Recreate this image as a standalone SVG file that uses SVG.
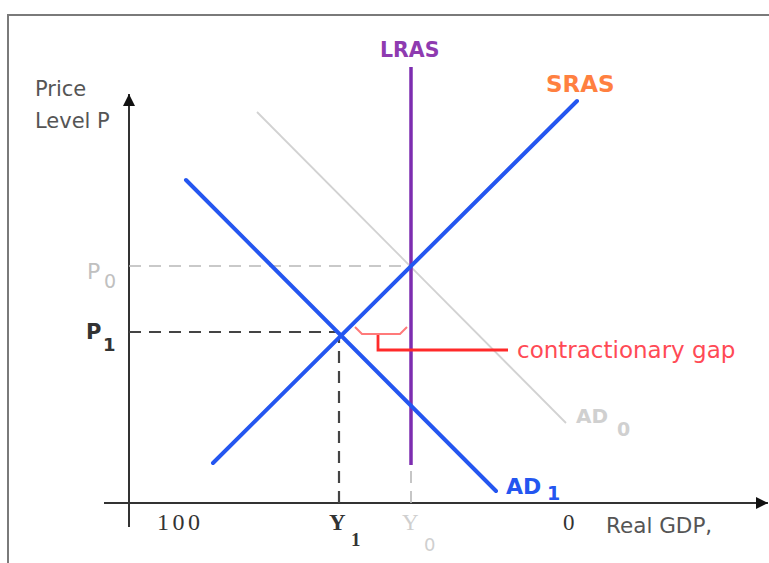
<svg xmlns="http://www.w3.org/2000/svg" width="769" height="563" viewBox="0 0 769 563">
<style>
.sans{font-family:"DejaVu Sans","Liberation Sans",sans-serif}
.serif{font-family:"Liberation Serif","DejaVu Serif",serif}
.b{font-weight:bold}
.curve{stroke:#2456f0;stroke-width:4;fill:none;stroke-linecap:round}
.dashd{stroke:#444;stroke-width:2.2;stroke-dasharray:12 8;fill:none}
.dashl{stroke:#b8b8b8;stroke-width:1.6;stroke-dasharray:12 8;fill:none}
.axis{stroke:#333;stroke-width:2;fill:none}
</style>
<defs>
<marker id="arr" viewBox="0 0 10 10" refX="10" refY="5" markerWidth="15" markerHeight="12" markerUnits="userSpaceOnUse" orient="auto">
<path d="M0,0 L10,5 L0,10 Z" fill="#111"/>
</marker>
</defs>
<rect width="769" height="563" fill="#fff"/>
<rect x="8" y="15" width="800" height="600" fill="none" stroke="#7a7a7a" stroke-width="2"/>

<g id="axes">
<line class="axis" x1="129" y1="527" x2="129" y2="94" marker-end="url(#arr)"/>
<line class="axis" x1="104" y1="503" x2="768" y2="503" marker-end="url(#arr)"/>
<text class="sans" x="35" y="96" font-size="21" fill="#555">Price</text>
<text class="sans" x="35" y="128" font-size="21" fill="#555">Level P</text>
<text class="serif" x="157" y="530" font-size="24" fill="#333" textLength="43">100</text>
<text class="serif" x="563" y="530" font-size="23" fill="#333">0</text>
<text class="sans" x="606" y="533" font-size="21.5" fill="#555">Real GDP,</text>
</g>

<g id="guides">
<line class="dashl" x1="129" y1="266" x2="411" y2="266"/>
<line class="dashd" x1="129" y1="332" x2="339" y2="332"/>
<line class="dashd" x1="339" y1="503" x2="339" y2="336"/>
<line class="dashl" x1="411" y1="503" x2="411" y2="466"/>
</g>

<g id="P0">
<text class="sans" x="87" y="279" font-size="22" fill="#c0c0c0">P</text>
<text class="sans" x="104" y="288" font-size="19" fill="#c0c0c0">0</text>
</g>
<g id="P1">
<text class="sans b" x="86" y="339" font-size="21" fill="#333">P</text>
<text class="sans b" x="103" y="351" font-size="18" fill="#333">1</text>
</g>
<g id="Y1">
<text class="serif b" x="329" y="530" font-size="23" fill="#333">Y</text>
<text class="serif b" x="351" y="546" font-size="19" fill="#333">1</text>
</g>
<g id="Y0">
<text class="serif" x="402" y="530" font-size="23" fill="#cfcfcf">Y</text>
<text class="sans" x="424" y="551" font-size="18" fill="#cfcfcf">0</text>
</g>

<g id="AD0">
<line x1="257" y1="112" x2="566" y2="423" stroke="#d2d2d2" stroke-width="1.8"/>
<text class="sans b" x="576" y="423" font-size="20" fill="#d0d0d0">AD</text>
<text class="sans b" x="617" y="436" font-size="19" fill="#d0d0d0">0</text>
</g>

<g id="LRAS">
<line x1="411" y1="67" x2="411" y2="465" stroke="#7d2db0" stroke-width="3.5"/>
<text class="sans b" x="380" y="57" font-size="20.5" fill="#8e3bb0">LRAS</text>
</g>

<g id="SRAS">
<line class="curve" x1="213" y1="463" x2="577" y2="101"/>
<text class="sans b" x="546" y="92" font-size="23" fill="#ff8040">SRAS</text>
</g>

<g id="AD1">
<line class="curve" x1="186" y1="180" x2="496" y2="491"/>
<text class="sans b" x="506" y="494" font-size="22" fill="#2456f0">AD</text>
<text class="sans b" x="547" y="500" font-size="19" fill="#2456f0">1</text>
</g>

<g id="gap">
<polyline points="355,327 362,334 400,334 407,327" fill="none" stroke="#ff7a7a" stroke-width="2"/>
<polyline points="378,335 378,350 508,350" fill="none" stroke="#ff2a2a" stroke-width="2.8"/>
<text class="sans" x="517" y="358" font-size="23" fill="#ff4a55">contractionary gap</text>
</g>
</svg>
